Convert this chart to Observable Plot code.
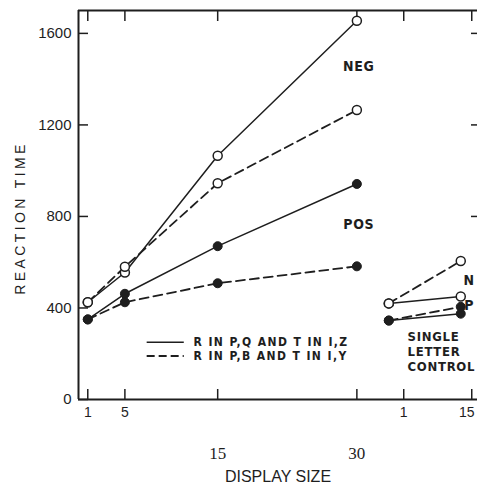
<!DOCTYPE html>
<html>
<head>
<meta charset="utf-8">
<script src="https://cdn.jsdelivr.net/npm/d3@7"></script>
<script src="https://cdn.jsdelivr.net/npm/@observablehq/plot@0.6"></script>
<style>
  html, body { margin: 0; padding: 0; background: #fff; overflow: hidden; }
  #chart { width: 477px; height: 487px; }
  g[aria-description="y-title"] text { letter-spacing: 3.4px; }
  g[aria-description="legend-text"] text { letter-spacing: 1.4px; }
  g[aria-description="control-text"] text { letter-spacing: 0.7px; }
  g[aria-description="notes"] text { letter-spacing: 0.6px; }
</style>
</head>
<body>
<div id="chart"></div>
<script>
// ---- data ----
const mainSizes = [1, 5, 15, 30];
const negSolid  = [425, 555, 1065, 1655];   // R in P,Q and T in I,Z  (NEG, open)
const negDashed = [425, 580, 945, 1265];    // R in P,B and T in I,Y  (NEG, open)
const posSolid  = [350, 462, 670, 942];     // POS, filled, solid
const posDashed = [350, 425, 508, 582];     // POS, filled, dashed

const ctrlSizes     = [1, 15];
const ctrlNegSolid  = [420, 450];
const ctrlNegDashed = [420, 605];
const ctrlPosSolid  = [345, 375];
const ctrlPosDashed = [345, 405];

const yTicks = [0, 400, 800, 1200, 1600];
const legendLabels = ["R IN P,Q AND T IN I,Z", "R IN P,B AND T IN I,Y"];

// ---- layout of the broken x axis (main panel + single letter control panel) ----
const ctrlOrigin = 33.44, ctrlUnit = 0.554;       // control panel position of size 1 and unit width
const ctrlTickPos = [35.05, 42.38];               // where the control-panel ticks sit
const toMain = s => s;
const toCtrl = s => ctrlOrigin + (s - 1) * ctrlUnit;

const rows = [];
function addSeries(sizes, values, map, series, filled, dashed, section) {
  sizes.forEach((s, i) => rows.push({u: map(s), size: s, value: values[i], series, filled, dashed, key: series + section}));
}
addSeries(mainSizes, negSolid, toMain, "negSolid", false, false, "main");
addSeries(mainSizes, negDashed, toMain, "negDashed", false, true, "main");
addSeries(mainSizes, posSolid, toMain, "posSolid", true, false, "main");
addSeries(mainSizes, posDashed, toMain, "posDashed", true, true, "main");
addSeries(ctrlSizes, ctrlNegSolid, toCtrl, "negSolid", false, false, "ctrl");
addSeries(ctrlSizes, ctrlNegDashed, toCtrl, "negDashed", false, true, "ctrl");
addSeries(ctrlSizes, ctrlPosSolid, toCtrl, "posSolid", true, false, "ctrl");
addSeries(ctrlSizes, ctrlPosDashed, toCtrl, "posDashed", true, true, "ctrl");

const xTickPos = [...mainSizes, ...ctrlTickPos];
const xTickLabels = ["1", "5", "", "", "1", ""];
const xLabelOf = new Map(xTickPos.map((p, i) => [p, xTickLabels[i]]));
const edgeLabel = "15"; // control-panel 15, at the right edge

// annotation anchors (data units)
const legend = legendLabels.map((t, i) => ({text: t, y: [250, 190][i], dashed: i === 1}));
const legendX1 = 7.4, legendX2 = 11.4, legendTX = 12.4;
const notes = [
  {text: "NEG", u: 30.2, v: 1455, anchor: "middle"},
  {text: "POS", u: 30.2, v: 765, anchor: "middle"},
  {text: "N", u: 42.1, v: 522, anchor: "start"},
  {text: "P", u: 42.1, v: 411, anchor: "start"}
];

const ink = "#1e1e1e";
const narrow = "'Liberation Sans Narrow','DejaVu Sans Condensed','Arial Narrow',Arial,sans-serif";
const dash = "9,5";

const chart = Plot.plot({
  width: 477,
  height: 487,
  marginLeft: 78,
  marginRight: 0,
  marginTop: 10,
  marginBottom: 88,
  style: {fontFamily: "'Liberation Sans', Arial, sans-serif", fontSize: "15px", color: ink, background: "#fff"},
  x: {domain: [0, 43], axis: null},
  y: {domain: [0, 1700], axis: null},
  marks: [
    // frame lines
    Plot.ruleX([0], {stroke: ink, strokeWidth: 2}),
    Plot.ruleY([0], {stroke: ink, strokeWidth: 2}),
    Plot.ruleY([1700], {stroke: ink, strokeWidth: 2}),
    // axes
    Plot.axisY({ticks: yTicks, tickSize: -10, tickPadding: 17, strokeWidth: 1.5, label: null, fontSize: 15, tickFormat: d => String(d)}),
    Plot.axisY({anchor: "right", ticks: [800, 1200, 1600], tickSize: -7, strokeWidth: 1.5, text: null, label: null}),
    Plot.axisX({ticks: xTickPos, tickSize: -10, tickPadding: 18, strokeWidth: 1.5, tickFormat: d => xLabelOf.get(d), label: null, fontSize: 14}),
    Plot.axisX({ticks: [ctrlTickPos[1]], tickSize: 0, tickPadding: 8, dx: -5, tickFormat: () => edgeLabel, label: null, fontSize: 14}),
    Plot.axisX({anchor: "top", ticks: xTickPos, tickSize: -10, strokeWidth: 1.5, text: null, label: null}),
    Plot.axisX({ticks: [15, 30], tickSize: 0, tickPadding: 47, label: null, fontFamily: "'Liberation Serif','Times New Roman',serif", fontSize: 17}),
    Plot.text(["DISPLAY SIZE"], {frameAnchor: "bottom", dy: 77, lineAnchor: "middle", textAnchor: "middle", fontSize: 16, fill: ink}),
    Plot.text(["REACTION TIME"], {frameAnchor: "left", rotate: -90, dx: -58, dy: 13, lineAnchor: "middle", textAnchor: "middle", fontSize: 14, fill: ink, ariaDescription: "y-title"}),
    // lines
    Plot.line(rows.filter(d => !d.dashed), {x: "u", y: "value", z: "key", stroke: ink, strokeWidth: 1.5}),
    Plot.line(rows.filter(d => d.dashed), {x: "u", y: "value", z: "key", stroke: ink, strokeWidth: 1.8, strokeDasharray: dash}),
    // markers
    Plot.dot(rows.filter(d => d.filled), {x: "u", y: "value", r: 4.5, fill: ink, stroke: ink, strokeWidth: 1}),
    Plot.dot(rows.filter(d => !d.filled), {x: "u", y: "value", r: 4.5, fill: "#fff", stroke: ink, strokeWidth: 1.5}),
    // legend
    Plot.ruleY(legend.filter(d => !d.dashed), {y: "y", x1: legendX1, x2: legendX2, stroke: ink, strokeWidth: 1.5}),
    Plot.ruleY(legend.filter(d => d.dashed), {y: "y", x1: legendX1, x2: legendX2, stroke: ink, strokeWidth: 1.8, strokeDasharray: "8,4"}),
    Plot.text(legend, {x: legendTX, y: "y", text: "text", textAnchor: "start", fontFamily: narrow, fontWeight: "bold", fontSize: 12, fill: ink, ariaDescription: "legend-text"}),
    // labels
    Plot.text(notes, {x: "u", y: "v", text: "text", textAnchor: d => d.anchor, fontFamily: narrow, fontWeight: "bold", fontSize: 14, fill: ink, ariaDescription: "notes"}),
    Plot.text(["SINGLE\nLETTER\nCONTROL"], {x: 35.46, y: 302, textAnchor: "start", lineAnchor: "top", lineHeight: 1.15, fontFamily: narrow, fontWeight: "bold", fontSize: 13, fill: ink, ariaDescription: "control-text"})
  ]
});
document.getElementById("chart").appendChild(chart);
</script>
</body>
</html>
